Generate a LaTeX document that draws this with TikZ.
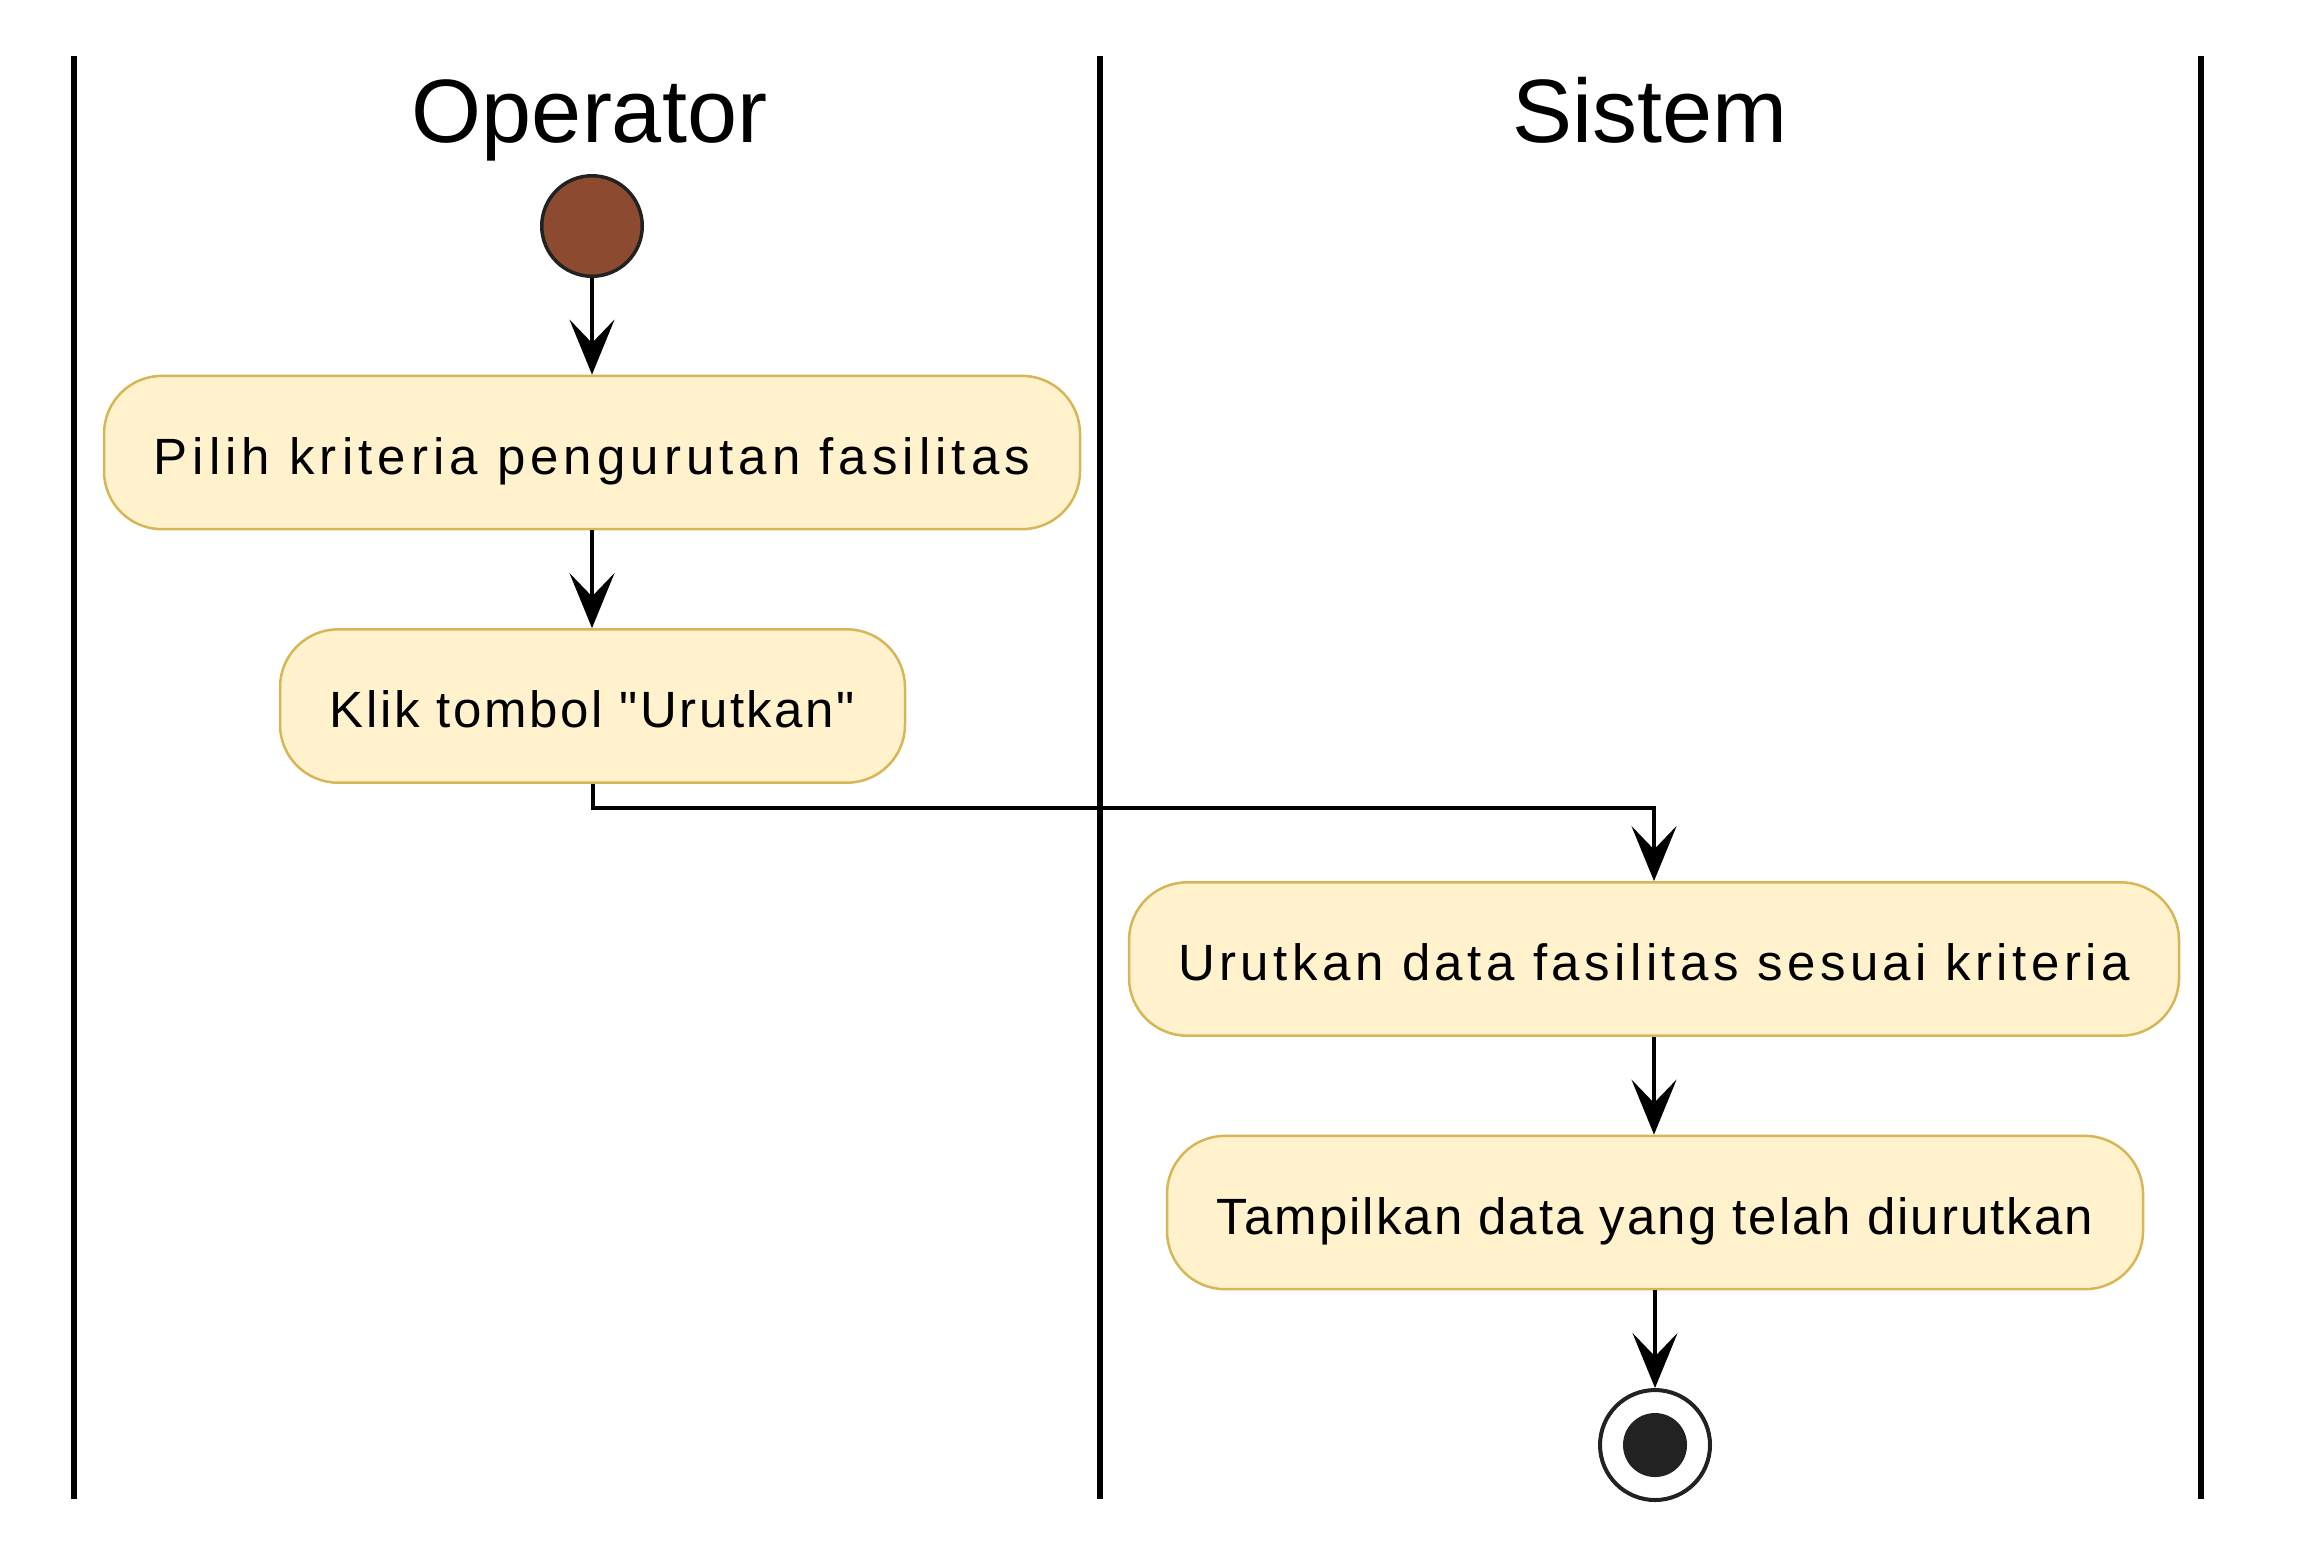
\documentclass[tikz,border=0pt]{standalone}
\usepackage{fontspec}
\setmainfont{Liberation Sans}
\newfontfamily\lsA[LetterSpace=9.9]{Liberation Sans}
\newfontfamily\lsB[LetterSpace=5.1]{Liberation Sans}
\newfontfamily\lsC[LetterSpace=8.7]{Liberation Sans}
\newfontfamily\lsD[LetterSpace=3.9]{Liberation Sans}
\usetikzlibrary{arrows.meta}
\definecolor{boxfill}{HTML}{FFF2CC}
\definecolor{boxdraw}{HTML}{D6B656}
\definecolor{startfill}{HTML}{8C4B30}
\definecolor{darkc}{HTML}{222222}
\tikzset{
  lane/.style={line width=1.8pt, black},
  lanetitle/.style={anchor=base, inner sep=0pt, font=\fontsize{27}{30}\selectfont},
  actbox/.style={draw=boxdraw, fill=boxfill, line width=0.75pt, rounded corners=17.4pt,
    minimum height=46pt, inner sep=0pt, text height=12.9pt, text depth=0pt, align=center},
  arr/.style={line width=1.2pt, black, -{Stealth[length=16.5pt, width=13.5pt, inset=7pt]}},
  startnode/.style={circle, draw=darkc, fill=startfill, line width=1.05pt, minimum size=30.15pt, inner sep=0pt},
  endring/.style={circle, draw=darkc, fill=white, line width=1.2pt, minimum size=33pt, inner sep=0pt},
  enddot/.style={circle, fill=darkc, minimum size=19.2pt, inner sep=0pt}
}
\begin{document}
\begin{tikzpicture}[x=0.3pt, y=-0.3pt]
\useasboundingbox (0,0) rectangle (2305,1560);
% swimlane separators
\draw[lane] (73.5,56) -- (73.5,1499);
\draw[lane] (1100,56) -- (1100,1499);
\draw[lane] (2201,56) -- (2201,1499);
% lane titles
\node[lanetitle] (t1) at (589.5,142) {Operator};
\node[lanetitle] (t2) at (1650,142) {Sistem};
% start
\node[startnode] (start) at (592,226) {};
% activities
\node[actbox, minimum width=292.8pt, font=\lsA\fontsize{15.3}{18}\selectfont] (b1) at (592,452.5) {Pilih kriteria pengurutan fasilitas};
\node[actbox, minimum width=187.5pt, font=\lsB\fontsize{15.3}{18}\selectfont] (b2) at (592.5,706) {Klik tombol "Urutkan"};
\node[actbox, minimum width=315pt, font=\lsC\fontsize{15.3}{18}\selectfont] (b3) at (1654,959) {Urutkan data fasilitas sesuai kriteria};
\node[actbox, minimum width=292.8pt, font=\lsD\fontsize{15.3}{18}\selectfont] (b4) at (1655,1212.5) {Tampilkan data yang telah diurutkan};
% end
\node[endring] (endc) at (1655,1445) {};
\node[enddot] (endd) at (endc.center) {};
% flows
\draw[arr] (start.south) -- (start.south |- b1.north);
\draw[arr] (b1.south) -- (b1.south |- b2.north);
\draw[arr] (b2.south) -- ++(0,24) -| (b3.north);
\draw[arr] (b3.south) -- (b3.south |- b4.north);
\draw[arr] (b4.south) -- (b4.south |- endc.north);
\end{tikzpicture}
\end{document}
